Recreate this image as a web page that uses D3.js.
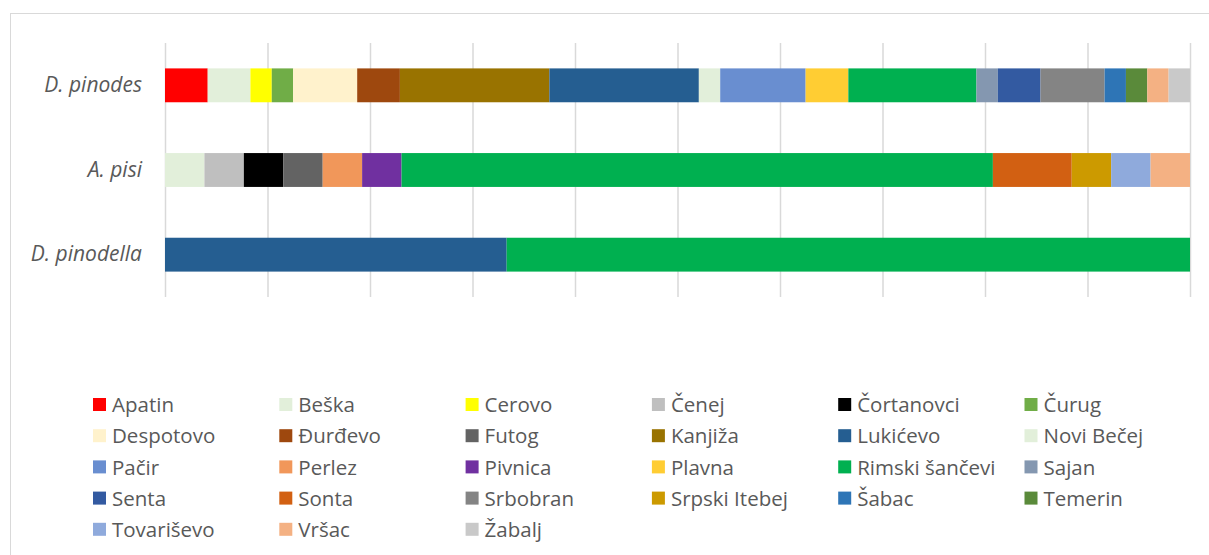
<!DOCTYPE html>
<html><head><meta charset="utf-8">
<script src="https://cdn.jsdelivr.net/npm/d3@7"></script>
<style>body{margin:0;background:#fff}svg{display:block;font-family:"Open Sans",sans-serif}</style>
</head><body><svg id="c" width="1209" height="555"></svg>
<script>
const categories = ["D. pinodes", "A. pisi", "D. pinodella"];
const locations = ["Apatin","Beška","Cerovo","Čenej","Čortanovci","Čurug","Despotovo","Đurđevo","Futog","Kanjiža","Lukićevo","Novi Bečej","Pačir","Perlez","Pivnica","Plavna","Rimski šančevi","Sajan","Senta","Sonta","Srbobran","Srpski Itebej","Šabac","Temerin","Tovariševo","Vršac","Žabalj"];
const colors = ["#ff0000","#e2efda","#ffff00","#bfbfbf","#000000","#70ad47","#fff2cc","#9e480e","#636363","#997300","#255e91","#e2efda","#698ed0","#f1975a","#7030a0","#ffcd33","#00b050","#8497b0","#335aa1","#d26012","#848484","#cc9a00","#2e75b6","#5a8a3a","#8faadc","#f4b183","#c9c9c9"];
const pinodes  = [2,2,1,0,0,1,3,2,0,7,7,1,4,0,0,2,6,1,2,0,3,0,1,1,0,1,1];
const pisi     = [0,1,0,1,1,0,0,0,1,0,0,0,0,1,1,0,15,0,0,2,0,1,0,0,1,1,0];
const pinodella= [0,0,0,0,0,0,0,0,0,0,1,0,0,0,0,0,2,0,0,0,0,0,0,0,0,0,0];
const tickValues = [0,0.1,0.2,0.3,0.4,0.5,0.6,0.7,0.8,0.9,1];

const series = [pinodes, pisi, pinodella];
const rows = categories.map((c,i)=>{const o={cat:c};locations.forEach((l,j)=>o[l]=series[i][j]);return o;});
const stack = d3.stack().keys(locations).offset(d3.stackOffsetExpand)(rows);

const svg = d3.select("#c");
svg.append("rect").attr("x",10.5).attr("y",13.5).attr("width",1300).attr("height",700)
  .attr("fill","none").attr("stroke","#d9d9d9").attr("stroke-width",1);

const x = d3.scaleLinear().domain([0,1]).range([165,1190]);
const y = d3.scaleBand().domain(categories).range([43,297]).paddingInner(0.6).paddingOuter(0.3);

const grid = svg.append("g").attr("transform","translate(0,297)")
  .call(d3.axisBottom(x).tickValues(tickValues).tickSize(-254).tickFormat(""));
grid.select(".domain").remove();
grid.selectAll(".tick line").attr("stroke","#d9d9d9").attr("stroke-width",1.5);

const color = d3.scaleOrdinal().domain(locations).range(colors);
svg.append("g").selectAll("g").data(stack).join("g").attr("fill",d=>color(d.key))
  .selectAll("rect").data(d=>d).join("rect")
  .attr("x",d=>x(d[0])).attr("width",d=>x(d[1])-x(d[0]))
  .attr("y",d=>y(d.data.cat)).attr("height",y.bandwidth());

const yax = svg.append("g").attr("transform","translate(142,0)")
  .call(d3.axisLeft(y).tickSize(0).tickPadding(0));
yax.select(".domain").remove();
yax.selectAll("text").attr("font-size",21).attr("font-style","italic").attr("fill","#595959")
  .attr("font-family","'Open Sans',sans-serif");

const lg = svg.append("g");
const item = lg.selectAll("g").data(locations).join("g")
  .attr("transform",(d,i)=>`translate(${93+(i%6)*186.3},${405+Math.floor(i/6)*31.2})`);
item.append("rect").attr("x",0).attr("y",-7).attr("width",13).attr("height",13).attr("fill",d=>color(d));
item.append("text").attr("x",19).attr("y",0).attr("dy","0.35em").attr("font-size",20.5)
  .attr("fill","#595959").text(d=>d);
</script></body></html>
